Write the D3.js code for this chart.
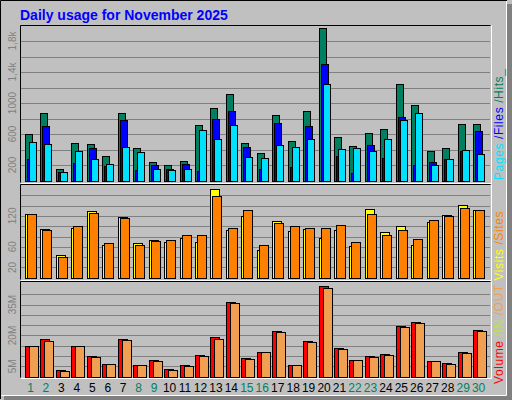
<!DOCTYPE html>
<html><head><meta charset="utf-8">
<script src="https://cdn.jsdelivr.net/npm/d3@7"></script>
<style>body{margin:0;background:#fff}svg{display:block}</style>
</head><body>
<script>
const days = d3.range(1,31);
const weekendDays = [1,2,8,9,15,16,22,23,29,30];
const hits  = [596,867,145,480,467,312,867,415,235,196,248,712,932,1112,480,351,841,506,893,1964,557,441,609,661,1241,970,377,415,725,725];
const files = [277,699,106,226,415,183,777,131,196,145,209,119,790,893,428,145,738,170,699,1499,312,93,454,286,815,196,235,273,377,635];
const pages = [493,467,106,377,273,209,428,364,145,131,145,648,532,712,299,286,454,428,532,1241,402,415,377,532,777,867,196,273,389,338];
const visits= [123,94,45,96,129,63,117,67,74,70,78,69,172,92,119,53,111,90,94,78,92,61,133,88,100,63,109,121,142,131];
const sites = [123,92,41,100,125,67,115,63,72,74,82,82,158,96,131,63,106,100,96,96,102,69,123,82,92,76,113,119,135,131];
const volume= [14.7,18.2,3.1,14.7,9.9,6.0,18.2,5.5,8.0,3.6,5.5,10.4,19.1,36.1,8.9,11.8,22.0,5.5,17.2,43.9,13.8,8.0,9.9,10.9,24.5,26.4,7.5,6.5,11.8,22.5];
const volOut= [14.7,17.2,2.6,14.7,9.4,6.0,17.7,5.5,7.5,3.1,5.0,9.9,18.2,35.6,8.4,11.8,21.6,5.5,16.7,42.9,13.3,8.0,9.4,10.4,24.0,25.9,7.5,6.0,11.3,22.0];
const ticks1 = [200,600,1000,1400,1800], tickLab1=["200","600","1000","1,4k","1,8k"];
const ticks2 = [20,60,120], ticks3=[5,20,35];

const W=512,H=400;
const svg=d3.select("body").append("svg").attr("width",W).attr("height",H);
svg.append("rect").attr("width",W).attr("height",H).attr("fill","#c0c0c0");
svg.append("rect").attr("x",507).attr("y",4).attr("width",5).attr("height",396).attr("fill","#808080");
svg.append("rect").attr("x",4).attr("y",395).attr("width",508).attr("height",5).attr("fill","#808080");
svg.append("path").attr("d","M0.5,399V0.5H507").attr("stroke","#000").attr("fill","none");
svg.append("path").attr("d","M1.5,395.5H506.5V1").attr("stroke","#fff").attr("fill","none");
svg.append("text").attr("x",20).attr("y",20).text("Daily usage for November 2025")
  .attr("font-family","Arial, Liberation Sans").attr("font-weight","bold").attr("font-size",14).attr("fill","#0000ff");

const x=d3.scaleLinear().domain([1,30]).range([25,473.1]);
const panels=[{y0:25,y1:182},{y0:184,y1:279},{y0:281,y1:377}];
panels.forEach(p=>{
  svg.append("rect").attr("x",20.5).attr("y",p.y0+0.5).attr("width",470).attr("height",p.y1-p.y0).attr("fill","#c0c0c0");
  svg.append("path").attr("d",`M20.5,${p.y1+0.5}V${p.y0+0.5}H490.5`).attr("stroke","#000").attr("fill","none");
  svg.append("path").attr("d",`M21,${p.y1+1.5}H491.5V${p.y0+0.5}`).attr("stroke","#fff").attr("fill","none");
});
function grid(y,vals){
  vals.forEach(v=>svg.append("line").attr("x1",21).attr("x2",490).attr("y1",Math.round(y(v))+0.5).attr("y2",Math.round(y(v))+0.5).attr("stroke","#808080"));
}
const y1=d3.scaleLinear().domain([0,2000]).range([180.5,25.5]);
const y2=d3.scaleLinear().domain([0,180]).range([277.7,185]);
const y3=d3.scaleLinear().domain([0,46]).range([376.7,281.9]);
grid(y1,d3.range(200,1801,200));
grid(y2,d3.range(20,161,20));
grid(y3,d3.range(5,41,5));

function bars(y,data,dx,w,color){
  svg.append("g").selectAll("rect").data(data).join("rect")
   .attr("x",(d,i)=>Math.round(x(days[i])+dx)+0.5).attr("y",d=>Math.round(y(d))+0.5)
   .attr("width",w).attr("height",d=>Math.max(0,Math.round(y(0))-Math.round(y(d))))
   .attr("fill",color).attr("stroke","#000");
}
bars(y1,hits,0,7,"#008060");
bars(y1,files,2,7,"#0000ff");
bars(y1,pages,4,7,"#00e0ff");
bars(y2,visits,0,9,"#ffff00");
bars(y2,sites,2,9,"#ff8000");
bars(y3,volume,0,9,"#ff0000");
bars(y3,volOut,4,9,"#f0a050");

function ylabels(y,vals,labs){
  vals.forEach((v,i)=>svg.append("text").attr("transform",`translate(16,${y(v)}) rotate(-90)`)
   .attr("text-anchor","middle").attr("font-family","Arial, Liberation Sans").attr("font-size",10)
   .attr("fill","#808080").text(labs[i]));
}
ylabels(y1,ticks1,tickLab1);
ylabels(y2,ticks2,ticks2.map(String));
ylabels(y3,ticks3,ticks3.map(v=>v+"M"));

svg.append("g").selectAll("text").data(days).join("text")
  .attr("x",d=>x(d)+5.5).attr("y",392).attr("text-anchor","middle")
  .attr("font-family","Arial, Liberation Sans").attr("font-size",12)
  .attr("fill",d=>weekendDays.includes(d)?"#008060":"#000").text(d=>d);

function rlabel(yb,parts){
  const t=svg.append("text").attr("transform",`translate(503,${yb}) rotate(-90)`)
   .attr("font-family","Arial, Liberation Sans").attr("font-size",12).attr("letter-spacing",0.6);
  parts.forEach(p=>t.append("tspan").attr("fill",p[1]).text(p[0]));
}
rlabel(180,[["Pages","#00e0ff"],[" /","#0000ff"],["Files","#0000ff"],[" /","#008060"],["Hits_","#008060"]]);
rlabel(384,[["Volume ","#ff0000"],["/IN ","#c0e040"],["/OUT ","#f0a050"],[" Visits","#ffff00"],[" /","#ff8000"],["Sites","#ff8000"]]);
</script>
</body></html>
